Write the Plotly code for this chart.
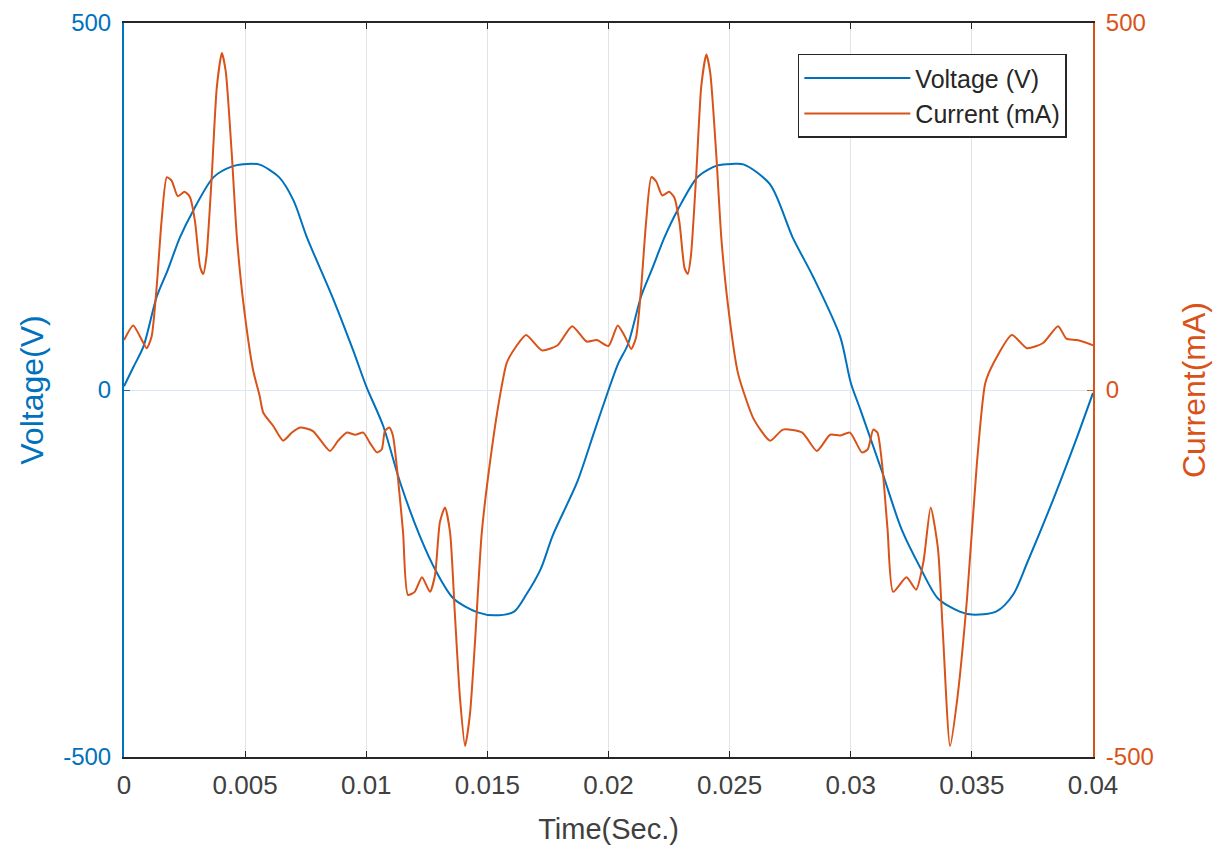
import plotly.graph_objects as go

# Voltage (V) samples
time_v = [0.0, 0.0004, 0.0008, 0.00135, 0.0018, 0.00231, 0.00285, 0.0037, 0.0045, 0.0051, 0.0056,
          0.0064, 0.0070, 0.00755, 0.0086, 0.00946, 0.0100, 0.0107, 0.0114, 0.0122, 0.0129,
          0.0136, 0.0146, 0.0153, 0.0161, 0.0166, 0.0172, 0.0177, 0.0187, 0.0194, 0.0200,
          0.0204, 0.0208, 0.02135, 0.0218, 0.02231, 0.02285, 0.0237, 0.0245, 0.0251, 0.0256,
          0.02667, 0.0276, 0.02845, 0.02956, 0.0300, 0.0304, 0.0313, 0.0321, 0.0329, 0.0336,
          0.0345, 0.0350, 0.0360, 0.0367, 0.0373, 0.03836, 0.0393, 0.0400]
voltage = [5, 32, 59, 127, 163, 208, 244, 290, 305, 308, 307,
           290, 258, 208, 127, 54, 5, -49, -126, -198, -248,
           -284, -303, -307, -302, -279, -244, -198, -126, -58, 0,
           36, 62, 128, 165, 208, 245, 291, 306, 308, 307,
           280, 208, 154, 73, 10, -27, -112, -190, -244, -284,
           -302, -306, -302, -279, -234, -149, -68, -4]

# Current (mA) samples
time_i = [0.0, 0.00038, 0.00066, 0.00094, 0.00114, 0.00135, 0.00155, 0.00177, 0.00197, 0.00222,
          0.0025, 0.00272, 0.00293, 0.00314, 0.00327, 0.0034, 0.00362, 0.00383, 0.00404, 0.0042,
          0.00445, 0.00466, 0.00493, 0.00533, 0.0056, 0.00575, 0.00616, 0.00657, 0.00693, 0.00727,
          0.0078, 0.0085, 0.00884, 0.0092, 0.00954, 0.00988, 0.01015, 0.01044, 0.01064, 0.01077,
          0.01095, 0.0111, 0.0113, 0.01152, 0.01172, 0.012, 0.0123, 0.01263, 0.01284, 0.01304,
          0.01325, 0.01346, 0.01366, 0.01387, 0.01408, 0.01428, 0.01449, 0.01477, 0.01518, 0.01552,
          0.0158, 0.0162, 0.0166, 0.01725, 0.0179, 0.0185, 0.0191, 0.01952, 0.0200,
          0.02038, 0.02066, 0.02094, 0.02114, 0.02135, 0.02155, 0.02177, 0.02197, 0.02222,
          0.0225, 0.02272, 0.02293, 0.02314, 0.02327, 0.0234, 0.02362, 0.02383, 0.02404, 0.0242,
          0.02445, 0.02466, 0.02493, 0.02533, 0.02555, 0.026, 0.02667, 0.0272, 0.028,
          0.0286, 0.02915, 0.02956, 0.02997, 0.03046, 0.0307, 0.03093, 0.0311, 0.0313, 0.03152,
          0.03175, 0.0323, 0.0327, 0.033, 0.0333, 0.0336, 0.0338, 0.0341, 0.0344, 0.0348,
          0.0352, 0.03555, 0.0359, 0.03665, 0.03727, 0.03794, 0.03856, 0.0389, 0.03934, 0.0400]
current = [68, 88, 73, 57, 73, 141, 230, 290, 285, 264,
           270, 263, 230, 168, 158, 181, 290, 412, 459, 434,
           321, 208, 118, 27, -8, -31, -49, -69, -58, -51,
           -56, -83, -69, -58, -61, -58, -72, -85, -81, -56,
           -51, -62, -117, -194, -279, -275, -255, -275, -252, -180,
           -160, -194, -306, -420, -485, -442, -343, -194, -81, -8,
           37, 60, 75, 54, 61, 87, 66, 68, 60,
           88, 74, 56, 72, 140, 228, 290, 284, 265,
           270, 262, 228, 166, 158, 182, 292, 414, 457, 432,
           320, 206, 116, 25, 0, -40, -69, -54, -58,
           -83, -61, -62, -58, -85, -81, -54, -58, -103, -190,
           -275, -255, -272, -234, -160, -216, -329, -485, -420, -284,
           -103, 9, 37, 75, 57, 64, 87, 70, 68, 61]

x_ticks = [0, 0.005, 0.01, 0.015, 0.02, 0.025, 0.03, 0.035, 0.04]
x_tick_text = ["0", "0.005", "0.01", "0.015", "0.02", "0.025", "0.03", "0.035", "0.04"]
y_ticks = [-500, 0, 500]
y_tick_text = ["-500", "0", "500"]

BLUE = "#0072BD"
ORANGE = "#D95319"
FONT = "Arial, Liberation Sans, sans-serif"

fig = go.Figure()
fig.add_trace(go.Scatter(x=time_v, y=voltage, mode="lines", name="Voltage (V)",
                         line=dict(color=BLUE, width=2, shape="spline", smoothing=0.8)))
fig.add_trace(go.Scatter(x=time_i, y=current, mode="lines", name="Current (mA)", yaxis="y2",
                         line=dict(color=ORANGE, width=2, shape="spline", smoothing=0.6)))

fig.update_layout(
    width=1222, height=852,
    margin=dict(l=116, r=137, t=15, b=103, autoexpand=False),
    paper_bgcolor="white", plot_bgcolor="white",
    font=dict(family=FONT, size=26, color="#404040"),
    showlegend=True,
    legend=dict(x=0.973, y=0.958, xanchor="right", yanchor="top",
                bgcolor="white", bordercolor="#262626", borderwidth=1.5,
                itemwidth=106, font=dict(size=25, color="#262626"), tracegroupgap=0),
    xaxis=dict(range=[0, 0.04], tickvals=x_ticks, ticktext=x_tick_text,
               showgrid=True, gridcolor="#e3e3e3", gridwidth=1,
               showline=True, linecolor="#262626", linewidth=1.5, mirror="ticks",
               ticks="inside", ticklen=6, tickcolor="#262626",
               ticklabelstandoff=4, ticklabeloverflow="allow",
               tickfont=dict(size=26, color="#404040"),
               title=dict(text="Time(Sec.)", font=dict(size=29, color="#404040"), standoff=20),
               zeroline=False),
    yaxis=dict(range=[-500, 500], tickvals=y_ticks, ticktext=y_tick_text,
               showgrid=True, gridcolor="#dbe8f3", gridwidth=1,
               showline=True, linecolor=BLUE, linewidth=2,
               ticks="inside", ticklen=6, tickcolor=BLUE,
               ticklabelstandoff=6, ticklabeloverflow="allow",
               tickfont=dict(size=24, color=BLUE),
               title=dict(text="Voltage(V)", font=dict(size=32, color=BLUE), standoff=10),
               zeroline=False),
    yaxis2=dict(range=[-500, 500], tickvals=y_ticks, ticktext=y_tick_text,
                overlaying="y", side="right", showgrid=False,
                showline=True, linecolor=ORANGE, linewidth=2,
                ticks="inside", ticklen=6, tickcolor=ORANGE,
                ticklabelstandoff=6, ticklabeloverflow="allow",
                tickfont=dict(size=24, color=ORANGE),
                title=dict(text="Current(mA)", font=dict(size=32, color=ORANGE), standoff=30),
                zeroline=False),
)

fig.write_html("out.html")
